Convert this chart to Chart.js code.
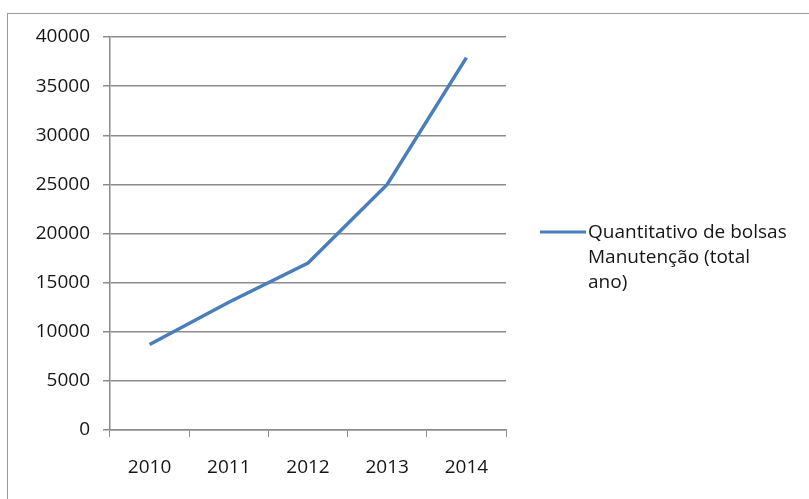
<!DOCTYPE html>
<html>
<head>
<meta charset="utf-8">
<script src="https://cdn.jsdelivr.net/npm/chart.js@4/dist/chart.umd.min.js"></script>
<style>
  html, body { margin: 0; padding: 0; background: #fff; overflow: hidden; }
  #wrap { position: relative; width: 809px; height: 499px; }
  #frame { position: absolute; left: 7px; top: 13px; width: 900px; height: 600px; border: 1px solid #9a9a9a; box-sizing: border-box; }
  canvas { position: absolute; left: 0; top: 0; }
</style>
</head>
<body>
<div id="wrap">
  <div id="frame"></div>
  <canvas id="chart" width="809" height="499"></canvas>
</div>
<script>
const years = ["2010", "2011", "2012", "2013", "2014"];
const bolsas = [8700, 13000, 17000, 25000, 37900];
const seriesLabel = ["Quantitativo de bolsas", "Manutenção (total", "ano)"];
const yTicks = [0, 5000, 10000, 15000, 20000, 25000, 30000, 35000, 40000];

const LINE = "#4a7ebb";
const GRID = "#8c8c8c";
const TEXT = "#161616";
const FONT = "'Open Sans', sans-serif";
const FONT_SIZE = 19;

// legend to the right of the plot, text wrapped like the original
const sideLegend = {
  id: "sideLegend",
  afterDraw(chart) {
    const ctx = chart.ctx;
    const x0 = chart.chartArea.right + 34;
    const y0 = 232;
    ctx.save();
    ctx.strokeStyle = LINE;
    ctx.lineWidth = 3;
    ctx.beginPath();
    ctx.moveTo(x0, y0);
    ctx.lineTo(x0 + 46, y0);
    ctx.stroke();
    ctx.fillStyle = TEXT;
    ctx.font = FONT_SIZE + "px " + FONT;
    ctx.textBaseline = "middle";
    seriesLabel.forEach((t, i) => ctx.fillText(t, x0 + 48, y0 + 1 + i * 25));
    ctx.restore();
  }
};

new Chart(document.getElementById("chart"), {
  type: "line",
  data: {
    labels: years,
    datasets: [{
      label: seriesLabel.join(" "),
      data: bolsas,
      borderColor: LINE,
      borderWidth: 3.5,
      pointRadius: 0,
      tension: 0,
      fill: false
    }]
  },
  options: {
    responsive: false,
    animation: false,
    layout: { padding: { top: 37, right: 303, left: 0, bottom: 0 } },
    plugins: { legend: { display: false }, tooltip: { enabled: false } },
    scales: {
      x: {
        offset: true,
        afterFit: (s) => { s.height = 69; },
        grid: { offset: true, drawOnChartArea: false, color: GRID, tickLength: 7 },
        border: { color: GRID, width: 1.5 },
        ticks: { color: TEXT, font: { family: FONT, size: FONT_SIZE }, padding: 19, maxRotation: 0 }
      },
      y: {
        min: 0,
        max: 40000,
        afterFit: (s) => { s.width = 110; },
        afterBuildTicks: (s) => { s.ticks = yTicks.map((v) => ({ value: v })); },
        grid: { color: GRID, lineWidth: 1.5, tickLength: 7 },
        border: { color: GRID, width: 1.5 },
        ticks: { color: TEXT, font: { family: FONT, size: FONT_SIZE }, padding: 13, callback: (v) => String(v) }
      }
    }
  },
  plugins: [sideLegend]
});
</script>
</body>
</html>
